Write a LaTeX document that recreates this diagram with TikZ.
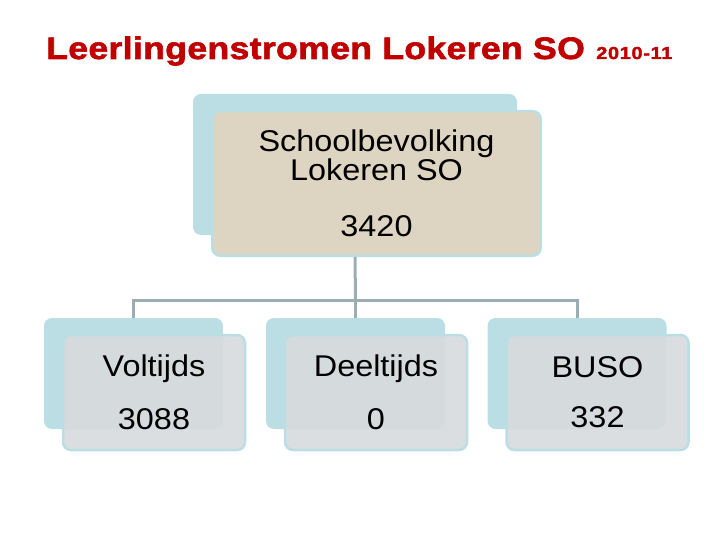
\documentclass[tikz,border=0pt]{standalone}
\usepackage{fontspec}
\setmainfont{Liberation Sans}[FakeStretch=1.08]
\newfontfamily\titlefont{Liberation Sans}[FakeStretch=1.15,LetterSpace=1,BoldFeatures={FakeBold=2}]
\newfontfamily\yearfont{Liberation Sans}[FakeStretch=1.15,LetterSpace=4,BoldFeatures={FakeBold=2}]
\usepackage{xcolor}
\usetikzlibrary{positioning}

\definecolor{titlered}{RGB}{192,0,0}
\definecolor{backteal}{RGB}{186,222,227}
\definecolor{boxgray}{RGB}{216,219,221}
\definecolor{burlap}{RGB}{221,212,194}
\definecolor{linegray}{RGB}{154,174,180}

\begin{document}
\begin{tikzpicture}[x=1pt, y=-1pt,
  backbox/.style={rectangle, rounded corners=8pt, fill=backteal, inner sep=0pt},
  frontbox/.style={rectangle, rounded corners=8pt, draw=backteal, line width=2.5pt, fill=boxgray, fill opacity=0.92, text opacity=1, text centered, align=center, inner sep=0pt, font=\fontsize{30pt}{25pt}\selectfont},
  titletext/.style={inner sep=0pt, anchor=base west, text=titlered},
  link/.style={draw=linegray, line width=3pt}]

\useasboundingbox (0,0) rectangle (720,540);

\node (title) [titletext, font=\titlefont\bfseries\fontsize{31pt}{31pt}\selectfont] at (46,59) {Leerlingenstromen Lokeren SO};
\node (year) [titletext, font=\yearfont\bfseries\fontsize{17.3pt}{17pt}\selectfont] at ([xshift=11pt]title.base east) {2010-11};

% top of the tree
\node (schoolback) [backbox, minimum width=324pt, minimum height=141pt] at (355,164.5) {};
\node (schoolfront) [frontbox, fill=burlap, fill opacity=1, minimum width=328.5pt, minimum height=144.5pt] at ([shift={(21.5,19)}]schoolback.center) {Schoolbevolking\\Lokeren SO\\[31pt]3420};

% the three streams
\node (voltback) [backbox, minimum width=179pt, minimum height=111pt] at (133.5,373.5) {};
\node (voltfront) [frontbox, minimum width=182pt, minimum height=115pt] at ([shift={(20.5,19)}]voltback.center) {Voltijds\\[25pt]3088};

\node (deelback) [backbox, minimum width=179pt, minimum height=111pt] at (355.5,373.5) {};
\node (deelfront) [frontbox, minimum width=182pt, minimum height=115pt] at ([shift={(20.5,19)}]deelback.center) {Deeltijds\\[25pt]0};

\node (busoback) [backbox, minimum width=179pt, minimum height=111pt] at (577,373.5) {};
\node (busofront) [frontbox, minimum width=182pt, minimum height=115pt] at ([shift={(20.5,19)}]busoback.center) {BUSO\\[25pt]332};

\coordinate (split) at (355.5,300);

\draw[link] (schoolback.center |- schoolfront.south) -- (split);
\draw[link] (voltback.north) |- (split) -| (busoback.north);
\draw[link] (split) -- (deelback.north);

\end{tikzpicture}
\end{document}
